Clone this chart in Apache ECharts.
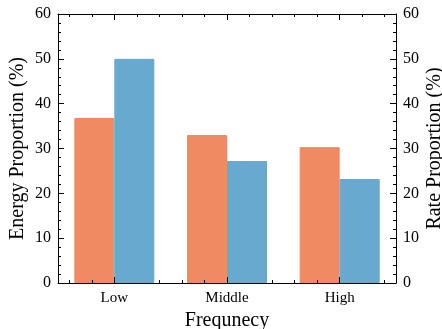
<!DOCTYPE html>
<html>
<head>
<meta charset="utf-8">
<script src="https://cdn.jsdelivr.net/npm/echarts@6/dist/echarts.min.js"></script>
<style>
  html, body { margin: 0; padding: 0; background: #fff; }
  #chart { width: 442px; height: 329px; }
</style>
</head>
<body>
<div id="chart"></div>
<script>
// categories and the two series
const categories = ["Low", "Middle", "High"];
const energy = [36.8, 33.0, 30.3];
const rate = [50.0, 27.2, 23.2];
// 15 slots of 0.2 width -> minor tick spots on the category axis
const minorSlots = Array(15).fill("");

const FONT = "Liberation Serif";
const BLACK = "#000";

const chart = echarts.init(document.getElementById("chart"), null, { renderer: "canvas" });

// shared tick styles
const majorTick = { show: true, inside: true, length: 6, alignWithLabel: true, lineStyle: { color: BLACK, width: 1 } };
const minorTickX = { show: true, inside: true, length: 3, alignWithLabel: true, lineStyle: { color: BLACK, width: 1 } };

const yAxisBase = {
	type: "value",
	min: 0,
	max: 60,
	interval: 10,
	nameLocation: "middle",
	nameMoveOverlap: false,
	nameTextStyle: { fontFamily: FONT, fontSize: 20, color: BLACK },
	axisLine: { show: true, lineStyle: { color: BLACK, width: 1 } },
	axisTick: { show: true, inside: true, length: 6, lineStyle: { color: BLACK } },
	minorTick: { show: true, splitNumber: 5, length: 3, lineStyle: { color: BLACK } },
	axisLabel: { fontFamily: FONT, fontSize: 16, color: BLACK, margin: 7 },
	splitLine: { show: false },
	z: 5,
};

chart.setOption({
	animation: false,
	grid: { left: 58, right: 46, top: 14, bottom: 46, outerBoundsMode: "none" },
	xAxis: [
		// bottom: labels + major ticks
		{
			type: "category",
			data: categories,
			position: "bottom",
			name: "Frequnecy",
			nameLocation: "middle",
			nameMoveOverlap: false,
			nameGap: 28,
			nameTextStyle: { fontFamily: FONT, fontSize: 20, color: BLACK },
			axisLine: { show: true, lineStyle: { color: BLACK, width: 1 } },
			axisTick: majorTick,
			axisLabel: { fontFamily: FONT, fontSize: 15, color: BLACK, margin: 8 },
			z: 5,
		},
		// bottom minor ticks
		{
			type: "category",
			data: minorSlots,
			position: "bottom",
			axisLine: { show: false },
			axisTick: minorTickX,
			axisLabel: { show: false },
			z: 3,
		},
		// top mirror: major
		{
			type: "category",
			data: categories,
			position: "top",
			axisLine: { show: true, lineStyle: { color: BLACK, width: 1 } },
			axisTick: majorTick,
			axisLabel: { show: false },
			z: 5,
		},
		// top mirror: minor
		{
			type: "category",
			data: minorSlots,
			position: "top",
			axisLine: { show: false },
			axisTick: minorTickX,
			axisLabel: { show: false },
			z: 3,
		},
	],
	yAxis: [
		Object.assign({}, yAxisBase, { position: "left", name: "Energy Proportion (%)", nameGap: 30 }),
		Object.assign({}, yAxisBase, { position: "right", name: "Rate Proportion (%)", nameGap: 29, nameRotate: 90 }),
	],
	series: [
		{
			name: "Energy",
			type: "bar",
			xAxisIndex: 0,
			yAxisIndex: 0,
			data: energy,
			barGap: "0%",
			barCategoryGap: "29%",
			// thin same-colour border closes the hairline seam against the blue bar
			itemStyle: { color: "#ef8a62", borderColor: "#ef8a62", borderWidth: 1 },
			z: 2,
		},
		{
			name: "Rate",
			type: "bar",
			xAxisIndex: 0,
			yAxisIndex: 1,
			data: rate,
			barGap: "0%",
			barCategoryGap: "29%",
			itemStyle: { color: "#67a9cf", borderColor: "#67a9cf", borderWidth: 1 },
			z: 4,
		},
	],
});
</script>
</body>
</html>
